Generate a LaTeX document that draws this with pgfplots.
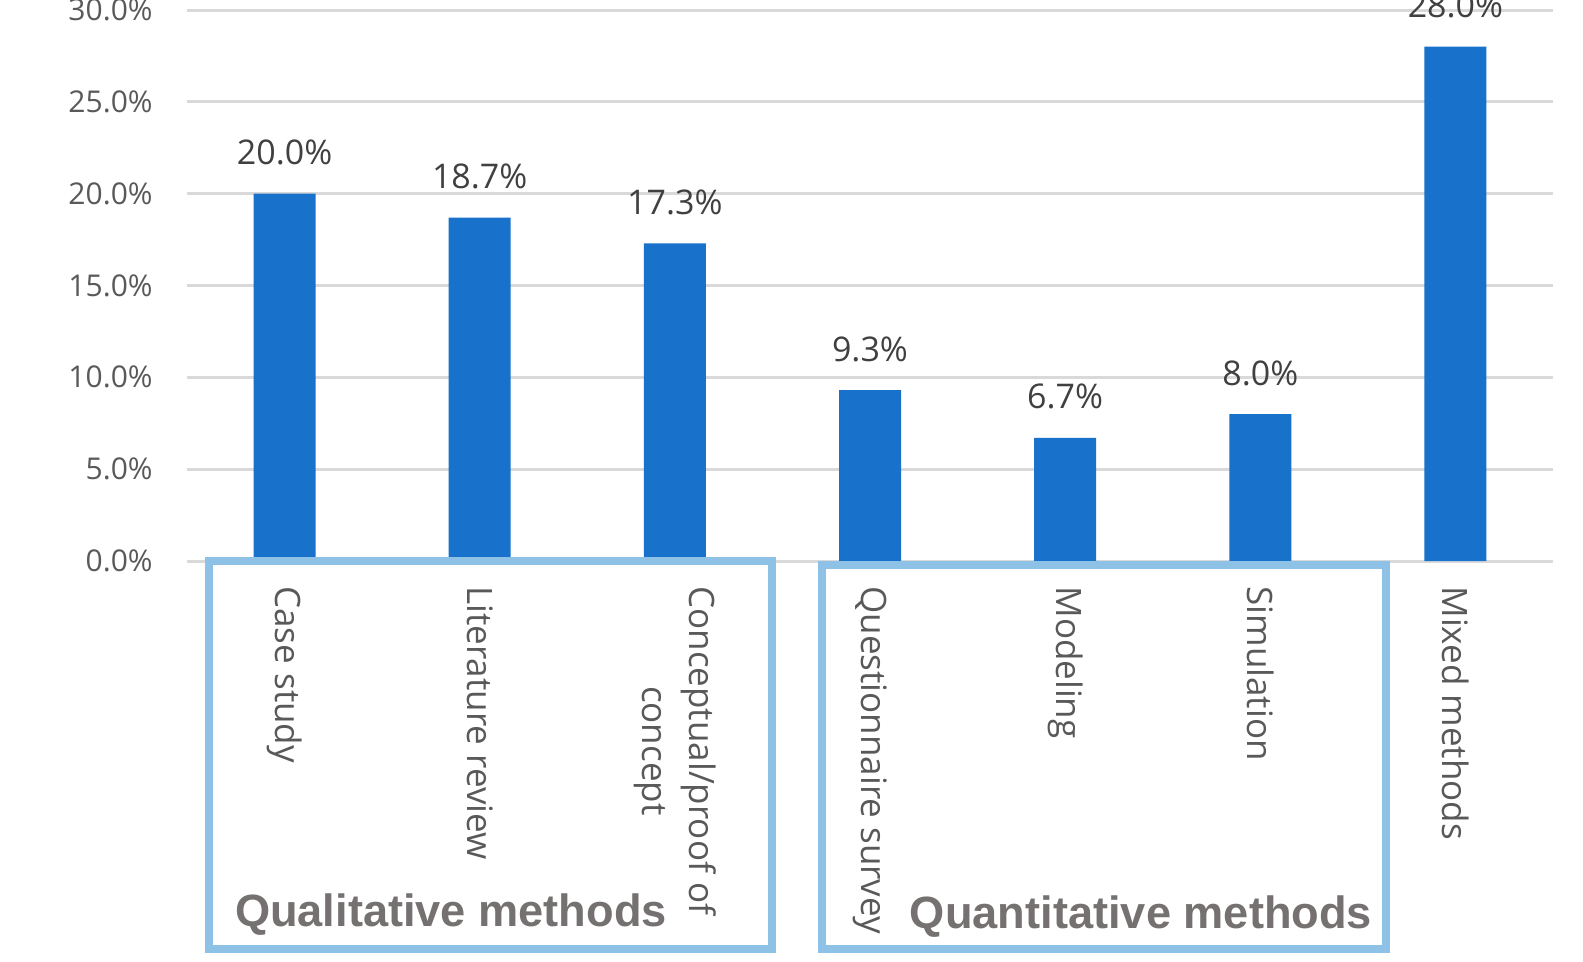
\documentclass[border=0pt]{standalone}
\usepackage{pgfplots}
\pgfplotsset{compat=1.18}
\usepackage{fontspec}
\setmainfont{Open Sans}
\newfontfamily\grpfont{Liberation Sans}
\definecolor{barblue}{RGB}{24,114,204}
\definecolor{boxblue}{RGB}{141,194,230}
\definecolor{gridgray}{RGB}{217,217,217}
\definecolor{ticktext}{RGB}{89,89,89}
\definecolor{datatext}{RGB}{64,64,64}
\definecolor{grptext}{RGB}{118,113,113}
\begin{document}
\begin{tikzpicture}
\begin{axis}[
  at={(0,0)}, anchor=south west,
  scale only axis, width=683pt, height=275.5pt,
  xmin=-0.5, xmax=6.5, ymin=0, ymax=30,
  clip=false,
  axis line style={draw=none},
  major tick length=0pt,
  ymajorgrids, grid style={line width=1.5pt, color=gridgray},
  ytick={0,5,10,15,20,25,30},
  yticklabel={\pgfmathprintnumber[assume math mode=true,fixed,fixed zerofill,precision=1]{\tick}\%},
  yticklabel style={anchor=east, inner sep=0pt, font=\fontsize{15pt}{18pt}\selectfont, text=ticktext},
  yticklabel shift=17pt,
  xtick={0,1,2,3,4,5,6},
  xticklabels={Case study, Literature review, {Conceptual/proof of\\concept}, Questionnaire survey, Modeling, Simulation, Mixed methods},
  xticklabel style={rotate=-90, anchor=west, align=center, inner sep=0pt, font=\fontsize{17.5pt}{23.5pt}\selectfont, text=ticktext},
  xticklabel shift=12.5pt,
  ybar, bar width=31pt,
  nodes near coords={\pgfmathprintnumber[assume math mode=true,fixed,fixed zerofill,precision=1]{\pgfplotspointmeta}\%},
  every node near coord/.append style={anchor=base, inner sep=0pt, yshift=14.5pt, font=\fontsize{17pt}{20pt}\selectfont, text=datatext},
]
\addplot[fill=barblue, draw=none] coordinates {(0,20.0) (1,18.7) (2,17.3) (3,9.3) (4,6.7) (5,8.0) (6,28.0)};
\end{axis}
\begin{scope}[x=0.5pt,y=0.5pt]
\draw[boxblue, line width=4pt] (22,0) rectangle (585,-388);
\draw[boxblue, line width=4pt] (635,-4) rectangle (1199,-388);
\node[anchor=base, inner sep=0pt, text=grptext, font=\grpfont\bfseries\fontsize{22.6pt}{26pt}\selectfont] at (264,-365) {Qualitative methods};
\node[anchor=base, inner sep=0pt, text=grptext, font=\grpfont\bfseries\fontsize{22.6pt}{26pt}\selectfont] at (954,-367) {Quantitative methods};
\pgfresetboundingbox
\path[use as bounding box] (-187,-401) rectangle (1396,561);
\end{scope}
\end{tikzpicture}
\end{document}
